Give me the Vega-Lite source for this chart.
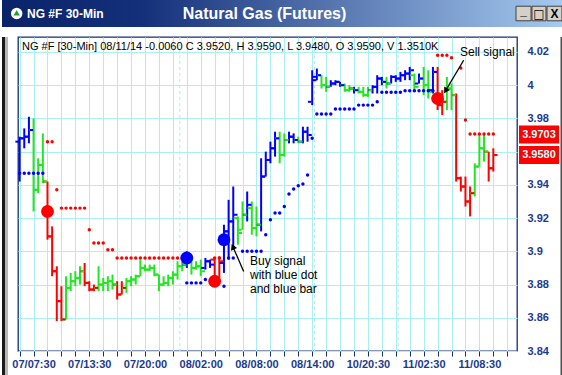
{
  "$schema": "https://vega.github.io/schema/vega-lite/v6.json",
  "padding": 0,
  "background": "white",
  "spacing": 7,
  "config": {
    "font": "Liberation Sans",
    "view": {"stroke": null}
  },
  "datasets": {
    "bars": [
      {"i":0,"o":3.966,"h":3.969,"l":3.942,"c":3.968,"s":"buy"},
      {"i":1,"o":3.968,"h":3.974,"l":3.962,"c":3.969,"s":"buy"},
      {"i":2,"o":3.969,"h":3.981,"l":3.965,"c":3.973,"s":"buy"},
      {"i":3,"o":3.973,"h":3.980,"l":3.924,"c":3.937,"s":"neutral"},
      {"i":4,"o":3.937,"h":3.956,"l":3.935,"c":3.952,"s":"neutral"},
      {"i":5,"o":3.952,"h":3.971,"l":3.941,"c":3.942,"s":"neutral"},
      {"i":6,"o":3.942,"h":3.942,"l":3.907,"c":3.909,"s":"sell"},
      {"i":7,"o":3.909,"h":3.915,"l":3.885,"c":3.888,"s":"sell"},
      {"i":8,"o":3.888,"h":3.891,"l":3.858,"c":3.870,"s":"sell"},
      {"i":9,"o":3.870,"h":3.879,"l":3.858,"c":3.859,"s":"sell"},
      {"i":10,"o":3.859,"h":3.885,"l":3.859,"c":3.878,"s":"neutral"},
      {"i":11,"o":3.878,"h":3.887,"l":3.876,"c":3.882,"s":"neutral"},
      {"i":12,"o":3.882,"h":3.888,"l":3.879,"c":3.884,"s":"neutral"},
      {"i":13,"o":3.884,"h":3.891,"l":3.880,"c":3.888,"s":"neutral"},
      {"i":14,"o":3.888,"h":3.893,"l":3.879,"c":3.881,"s":"sell"},
      {"i":15,"o":3.881,"h":3.882,"l":3.876,"c":3.877,"s":"sell"},
      {"i":16,"o":3.877,"h":3.880,"l":3.876,"c":3.878,"s":"sell"},
      {"i":17,"o":3.878,"h":3.891,"l":3.876,"c":3.880,"s":"neutral"},
      {"i":18,"o":3.880,"h":3.884,"l":3.876,"c":3.881,"s":"neutral"},
      {"i":19,"o":3.881,"h":3.885,"l":3.876,"c":3.882,"s":"neutral"},
      {"i":20,"o":3.882,"h":3.886,"l":3.877,"c":3.880,"s":"neutral"},
      {"i":21,"o":3.880,"h":3.882,"l":3.871,"c":3.874,"s":"sell"},
      {"i":22,"o":3.874,"h":3.882,"l":3.874,"c":3.878,"s":"sell"},
      {"i":23,"o":3.878,"h":3.884,"l":3.875,"c":3.882,"s":"neutral"},
      {"i":24,"o":3.882,"h":3.885,"l":3.879,"c":3.883,"s":"neutral"},
      {"i":25,"o":3.883,"h":3.886,"l":3.880,"c":3.885,"s":"neutral"},
      {"i":26,"o":3.885,"h":3.895,"l":3.885,"c":3.890,"s":"neutral"},
      {"i":27,"o":3.890,"h":3.892,"l":3.888,"c":3.889,"s":"neutral"},
      {"i":28,"o":3.889,"h":3.892,"l":3.888,"c":3.890,"s":"neutral"},
      {"i":29,"o":3.890,"h":3.892,"l":3.885,"c":3.886,"s":"neutral"},
      {"i":30,"o":3.886,"h":3.886,"l":3.876,"c":3.880,"s":"neutral"},
      {"i":31,"o":3.880,"h":3.885,"l":3.879,"c":3.881,"s":"neutral"},
      {"i":32,"o":3.881,"h":3.886,"l":3.879,"c":3.884,"s":"neutral"},
      {"i":33,"o":3.884,"h":3.888,"l":3.880,"c":3.886,"s":"neutral"},
      {"i":34,"o":3.886,"h":3.894,"l":3.883,"c":3.891,"s":"neutral"},
      {"i":35,"o":3.891,"h":3.894,"l":3.888,"c":3.892,"s":"neutral"},
      {"i":36,"o":3.892,"h":3.900,"l":3.890,"c":3.897,"s":"buy"},
      {"i":37,"o":3.895,"h":3.896,"l":3.886,"c":3.890,"s":"neutral"},
      {"i":38,"o":3.890,"h":3.894,"l":3.889,"c":3.891,"s":"neutral"},
      {"i":39,"o":3.891,"h":3.895,"l":3.885,"c":3.888,"s":"neutral"},
      {"i":40,"o":3.890,"h":3.896,"l":3.889,"c":3.894,"s":"buy"},
      {"i":41,"o":3.894,"h":3.895,"l":3.890,"c":3.892,"s":"buy"},
      {"i":42,"o":3.895,"h":3.896,"l":3.880,"c":3.884,"s":"sell"},
      {"i":43,"o":3.884,"h":3.897,"l":3.884,"c":3.894,"s":"sell"},
      {"i":44,"o":3.893,"h":3.916,"l":3.887,"c":3.912,"s":"buy"},
      {"i":45,"o":3.912,"h":3.931,"l":3.895,"c":3.918,"s":"buy"},
      {"i":46,"o":3.918,"h":3.939,"l":3.901,"c":3.922,"s":"buy"},
      {"i":47,"o":3.920,"h":3.921,"l":3.904,"c":3.911,"s":"neutral"},
      {"i":48,"o":3.913,"h":3.930,"l":3.913,"c":3.922,"s":"neutral"},
      {"i":49,"o":3.922,"h":3.936,"l":3.918,"c":3.928,"s":"buy"},
      {"i":50,"o":3.926,"h":3.930,"l":3.910,"c":3.914,"s":"neutral"},
      {"i":51,"o":3.914,"h":3.927,"l":3.909,"c":3.916,"s":"neutral"},
      {"i":52,"o":3.916,"h":3.956,"l":3.912,"c":3.945,"s":"buy"},
      {"i":53,"o":3.945,"h":3.960,"l":3.945,"c":3.955,"s":"buy"},
      {"i":54,"o":3.955,"h":3.966,"l":3.953,"c":3.962,"s":"buy"},
      {"i":55,"o":3.962,"h":3.972,"l":3.957,"c":3.968,"s":"buy"},
      {"i":56,"o":3.968,"h":3.972,"l":3.953,"c":3.958,"s":"neutral"},
      {"i":57,"o":3.958,"h":3.971,"l":3.957,"c":3.967,"s":"neutral"},
      {"i":58,"o":3.967,"h":3.972,"l":3.965,"c":3.969,"s":"buy"},
      {"i":59,"o":3.969,"h":3.971,"l":3.965,"c":3.967,"s":"buy"},
      {"i":60,"o":3.967,"h":3.969,"l":3.965,"c":3.966,"s":"neutral"},
      {"i":61,"o":3.966,"h":3.975,"l":3.965,"c":3.972,"s":"buy"},
      {"i":62,"o":3.972,"h":3.975,"l":3.966,"c":3.970,"s":"buy"},
      {"i":63,"o":3.990,"h":4.009,"l":3.988,"c":4.003,"s":"buy"},
      {"i":64,"o":4.005,"h":4.010,"l":4.003,"c":4.006,"s":"buy"},
      {"i":65,"o":4.006,"h":4.006,"l":3.998,"c":4.000,"s":"neutral"},
      {"i":66,"o":4.000,"h":4.005,"l":3.996,"c":3.999,"s":"neutral"},
      {"i":67,"o":3.999,"h":4.003,"l":3.999,"c":4.001,"s":"buy"},
      {"i":68,"o":4.001,"h":4.003,"l":4.000,"c":4.002,"s":"buy"},
      {"i":69,"o":4.002,"h":4.002,"l":3.999,"c":4.000,"s":"buy"},
      {"i":70,"o":4.000,"h":4.001,"l":3.996,"c":3.997,"s":"neutral"},
      {"i":71,"o":3.997,"h":4.000,"l":3.996,"c":3.998,"s":"neutral"},
      {"i":72,"o":3.998,"h":3.999,"l":3.995,"c":3.997,"s":"buy"},
      {"i":73,"o":3.997,"h":3.999,"l":3.995,"c":3.996,"s":"neutral"},
      {"i":74,"o":3.996,"h":3.999,"l":3.993,"c":3.994,"s":"neutral"},
      {"i":75,"o":3.994,"h":3.999,"l":3.993,"c":3.997,"s":"neutral"},
      {"i":76,"o":3.997,"h":4.000,"l":3.995,"c":3.999,"s":"buy"},
      {"i":77,"o":3.999,"h":4.006,"l":3.995,"c":4.004,"s":"buy"},
      {"i":78,"o":4.004,"h":4.005,"l":4.000,"c":4.002,"s":"buy"},
      {"i":79,"o":4.002,"h":4.005,"l":3.998,"c":4.001,"s":"neutral"},
      {"i":80,"o":4.001,"h":4.006,"l":4.001,"c":4.005,"s":"buy"},
      {"i":81,"o":4.005,"h":4.006,"l":4.002,"c":4.004,"s":"buy"},
      {"i":82,"o":4.004,"h":4.008,"l":4.002,"c":4.006,"s":"buy"},
      {"i":83,"o":4.006,"h":4.009,"l":4.003,"c":4.007,"s":"buy"},
      {"i":84,"o":4.007,"h":4.011,"l":4.003,"c":4.009,"s":"buy"},
      {"i":85,"o":4.006,"h":4.007,"l":3.997,"c":3.999,"s":"neutral"},
      {"i":86,"o":4.001,"h":4.007,"l":4.001,"c":4.004,"s":"buy"},
      {"i":87,"o":4.004,"h":4.011,"l":3.994,"c":4.000,"s":"neutral"},
      {"i":88,"o":4.000,"h":4.009,"l":3.992,"c":3.996,"s":"neutral"},
      {"i":89,"o":3.997,"h":4.011,"l":3.995,"c":4.008,"s":"buy"},
      {"i":90,"o":4.008,"h":4.011,"l":3.985,"c":3.988,"s":"sell"},
      {"i":91,"o":3.988,"h":3.997,"l":3.982,"c":3.990,"s":"sell"},
      {"i":92,"o":3.990,"h":4.005,"l":3.985,"c":3.998,"s":"neutral"},
      {"i":93,"o":3.998,"h":4.001,"l":3.985,"c":3.994,"s":"neutral"},
      {"i":94,"o":3.994,"h":3.995,"l":3.942,"c":3.944,"s":"sell"},
      {"i":95,"o":3.944,"h":3.945,"l":3.936,"c":3.939,"s":"sell"},
      {"i":96,"o":3.939,"h":3.945,"l":3.927,"c":3.930,"s":"sell"},
      {"i":97,"o":3.930,"h":3.939,"l":3.921,"c":3.935,"s":"sell"},
      {"i":98,"o":3.935,"h":3.953,"l":3.933,"c":3.951,"s":"neutral"},
      {"i":99,"o":3.951,"h":3.971,"l":3.951,"c":3.962,"s":"neutral"},
      {"i":100,"o":3.962,"h":3.971,"l":3.954,"c":3.960,"s":"neutral"},
      {"i":101,"o":3.960,"h":3.960,"l":3.942,"c":3.950,"s":"sell"},
      {"i":102,"o":3.950,"h":3.962,"l":3.948,"c":3.958,"s":"sell"}
    ],
    "sar": [
      {"i":0,"v":3.947,"s":"buy"},{"i":1,"v":3.947,"s":"buy"},{"i":2,"v":3.947,"s":"buy"},
      {"i":3,"v":3.947,"s":"buy"},{"i":4,"v":3.947,"s":"buy"},{"i":5,"v":3.947,"s":"buy"},
      {"i":6,"v":3.966,"s":"sell"},{"i":7,"v":3.966,"s":"sell"},{"i":8,"v":3.937,"s":"sell"},
      {"i":9,"v":3.926,"s":"sell"},{"i":10,"v":3.926,"s":"sell"},{"i":11,"v":3.926,"s":"sell"},
      {"i":12,"v":3.926,"s":"sell"},{"i":13,"v":3.926,"s":"sell"},{"i":14,"v":3.926,"s":"sell"},
      {"i":15,"v":3.913,"s":"sell"},{"i":16,"v":3.905,"s":"sell"},{"i":17,"v":3.905,"s":"sell"},
      {"i":18,"v":3.905,"s":"sell"},{"i":19,"v":3.901,"s":"sell"},{"i":20,"v":3.901,"s":"sell"},
      {"i":21,"v":3.896,"s":"sell"},{"i":22,"v":3.896,"s":"sell"},{"i":23,"v":3.896,"s":"sell"},
      {"i":24,"v":3.896,"s":"sell"},{"i":25,"v":3.896,"s":"sell"},{"i":26,"v":3.896,"s":"sell"},
      {"i":27,"v":3.896,"s":"sell"},{"i":28,"v":3.896,"s":"sell"},{"i":29,"v":3.896,"s":"sell"},
      {"i":30,"v":3.896,"s":"sell"},{"i":31,"v":3.896,"s":"sell"},{"i":32,"v":3.896,"s":"sell"},
      {"i":33,"v":3.896,"s":"sell"},{"i":34,"v":3.896,"s":"sell"},{"i":35,"v":3.896,"s":"sell"},
      {"i":36,"v":3.881,"s":"buy"},{"i":37,"v":3.881,"s":"buy"},{"i":38,"v":3.881,"s":"buy"},
      {"i":39,"v":3.881,"s":"buy"},{"i":40,"v":3.883,"s":"buy"},
      {"i":42,"v":3.896,"s":"sell"},{"i":43,"v":3.896,"s":"sell"},
      {"i":44,"v":3.879,"s":"buy"},{"i":45,"v":3.896,"s":"buy"},{"i":46,"v":3.896,"s":"buy"},
      {"i":48,"v":3.900,"s":"buy"},{"i":49,"v":3.900,"s":"buy"},{"i":50,"v":3.900,"s":"buy"},
      {"i":51,"v":3.900,"s":"buy"},{"i":52,"v":3.900,"s":"buy"},{"i":53,"v":3.910,"s":"buy"},
      {"i":54,"v":3.919,"s":"buy"},{"i":55,"v":3.923,"s":"buy"},{"i":56,"v":3.923,"s":"buy"},
      {"i":57,"v":3.927,"s":"buy"},{"i":58,"v":3.9345,"s":"buy"},{"i":59,"v":3.9375,"s":"buy"},
      {"i":60,"v":3.9395,"s":"buy"},{"i":61,"v":3.9405,"s":"buy"},{"i":62,"v":3.946,"s":"buy"},
      {"i":63,"v":3.968,"s":"buy"},{"i":64,"v":3.9827,"s":"buy"},{"i":65,"v":3.9827,"s":"buy"},
      {"i":66,"v":3.9827,"s":"buy"},{"i":67,"v":3.9827,"s":"buy"},{"i":68,"v":3.9857,"s":"buy"},
      {"i":69,"v":3.9857,"s":"buy"},{"i":70,"v":3.9857,"s":"buy"},{"i":71,"v":3.9857,"s":"buy"},
      {"i":72,"v":3.9857,"s":"buy"},{"i":73,"v":3.988,"s":"buy"},{"i":74,"v":3.988,"s":"buy"},
      {"i":75,"v":3.988,"s":"buy"},{"i":76,"v":3.988,"s":"buy"},{"i":77,"v":3.990,"s":"buy"},
      {"i":78,"v":3.9957,"s":"buy"},{"i":79,"v":3.9957,"s":"buy"},{"i":80,"v":3.9957,"s":"buy"},
      {"i":81,"v":3.9957,"s":"buy"},{"i":82,"v":3.9957,"s":"buy"},{"i":83,"v":3.9967,"s":"buy"},
      {"i":84,"v":3.9967,"s":"buy"},{"i":85,"v":3.9967,"s":"buy"},{"i":86,"v":3.9967,"s":"buy"},
      {"i":87,"v":3.9967,"s":"buy"},{"i":88,"v":3.9967,"s":"buy"},{"i":89,"v":3.9967,"s":"buy"},
      {"i":90,"v":4.018,"s":"sell"},{"i":91,"v":4.018,"s":"sell"},{"i":92,"v":4.018,"s":"sell"},
      {"i":93,"v":4.0165,"s":"sell"},{"i":95,"v":4.0104,"s":"sell"},{"i":96,"v":3.979,"s":"sell"},
      {"i":97,"v":3.9706,"s":"sell"},{"i":98,"v":3.9706,"s":"sell"},{"i":99,"v":3.9706,"s":"sell"},
      {"i":100,"v":3.9706,"s":"sell"},{"i":101,"v":3.9706,"s":"sell"},{"i":102,"v":3.9706,"s":"sell"}
    ],
    "signals": [
      {"i":6,"v":3.924,"s":"sell"},
      {"i":36,"v":3.896,"s":"buy"},
      {"i":42,"v":3.882,"s":"sell"},
      {"i":44,"v":3.907,"s":"buy"},
      {"i":90,"v":3.992,"s":"sell"}
    ],
    "sessions": [{"i":34.5},{"i":63.5},{"i":81.5}],
    "priceTags": [{"p":3.9703},{"p":3.958}]
  },
  "vconcat": [
    {
      "width": 546,
      "height": 27,
      "view": {"stroke": null},
      "data": {"values": [{}]},
      "layer": [
        {
          "mark": {"type": "rect", "fill": {"gradient": "linear", "x1": 0, "y1": 0, "x2": 1, "y2": 0, "stops": [{"offset": 0, "color": "#0a246a"}, {"offset": 0.25, "color": "#14307a"}, {"offset": 1, "color": "#a6caf0"}]}},
          "encoding": {
            "x": {"datum": -0.0293, "type": "quantitative", "scale": {"domain": [0, 1], "nice": false, "zero": false}, "axis": null},
            "x2": {"datum": 1},
            "y": {"datum": 0, "type": "quantitative", "scale": {"domain": [0, 1], "nice": false, "zero": false}, "axis": null},
            "y2": {"datum": 1}
          }
        },
        {
          "mark": {"type": "point", "shape": "circle", "filled": true, "fill": "white", "size": 130, "opacity": 1},
          "encoding": {
            "x": {"datum": -0.0024, "type": "quantitative", "scale": {"domain": [0, 1], "nice": false, "zero": false}, "axis": null},
            "y": {"datum": 0.5, "type": "quantitative", "scale": {"domain": [0, 1], "nice": false, "zero": false}, "axis": null}
          }
        },
        {
          "mark": {"type": "point", "shape": "triangle-up", "filled": true, "fill": "#1f9d3a", "size": 40, "opacity": 1},
          "encoding": {
            "x": {"datum": -0.0024, "type": "quantitative", "scale": {"domain": [0, 1], "nice": false, "zero": false}, "axis": null},
            "y": {"datum": 0.53, "type": "quantitative", "scale": {"domain": [0, 1], "nice": false, "zero": false}, "axis": null}
          }
        },
        {
          "mark": {"type": "text", "text": "NG #F 30-Min", "align": "left", "baseline": "middle", "font": "Liberation Sans", "fontWeight": "bold", "fontSize": 12, "fill": "white"},
          "encoding": {
            "x": {"datum": 0.0165, "type": "quantitative", "scale": {"domain": [0, 1], "nice": false, "zero": false}, "axis": null},
            "y": {"datum": 0.48, "type": "quantitative", "scale": {"domain": [0, 1], "nice": false, "zero": false}, "axis": null}
          }
        },
        {
          "mark": {"type": "text", "text": "Natural Gas (Futures)", "align": "center", "baseline": "middle", "font": "Liberation Sans", "fontWeight": "bold", "fontSize": 16, "fill": "white"},
          "encoding": {
            "x": {"datum": 0.4515, "type": "quantitative", "scale": {"domain": [0, 1], "nice": false, "zero": false}, "axis": null},
            "y": {"datum": 0.47, "type": "quantitative", "scale": {"domain": [0, 1], "nice": false, "zero": false}, "axis": null}
          }
        },
        {
          "mark": {"type": "rect", "fill": "#d4d0c8", "stroke": "#404040", "strokeWidth": 1},
          "encoding": {
            "x": {"datum": 0.9121, "type": "quantitative", "scale": {"domain": [0, 1], "nice": false, "zero": false}, "axis": null},
            "x2": {"datum": 0.9396},
            "y": {"datum": 0.23, "type": "quantitative", "scale": {"domain": [0, 1], "nice": false, "zero": false}, "axis": null},
            "y2": {"datum": 0.77}
          }
        },
        {
          "mark": {"type": "rect", "fill": "#d4d0c8", "stroke": "#404040", "strokeWidth": 1},
          "encoding": {
            "x": {"datum": 0.9414, "type": "quantitative", "scale": {"domain": [0, 1], "nice": false, "zero": false}, "axis": null},
            "x2": {"datum": 0.967},
            "y": {"datum": 0.23, "type": "quantitative", "scale": {"domain": [0, 1], "nice": false, "zero": false}, "axis": null},
            "y2": {"datum": 0.77}
          }
        },
        {
          "mark": {"type": "rect", "fill": "#d4d0c8", "stroke": "#404040", "strokeWidth": 1},
          "encoding": {
            "x": {"datum": 0.9689, "type": "quantitative", "scale": {"domain": [0, 1], "nice": false, "zero": false}, "axis": null},
            "x2": {"datum": 0.9963},
            "y": {"datum": 0.23, "type": "quantitative", "scale": {"domain": [0, 1], "nice": false, "zero": false}, "axis": null},
            "y2": {"datum": 0.77}
          }
        },
        {
          "mark": {"type": "text", "text": "_", "align": "center", "baseline": "middle", "font": "Liberation Sans", "fontWeight": "bold", "fontSize": 12, "fill": "black"},
          "encoding": {
            "x": {"datum": 0.9258, "type": "quantitative", "scale": {"domain": [0, 1], "nice": false, "zero": false}, "axis": null},
            "y": {"datum": 0.6, "type": "quantitative", "scale": {"domain": [0, 1], "nice": false, "zero": false}, "axis": null}
          }
        },
        {
          "mark": {"type": "text", "text": "□", "align": "center", "baseline": "middle", "font": "DejaVu Sans", "fontWeight": "bold", "fontSize": 12, "fill": "black"},
          "encoding": {
            "x": {"datum": 0.9542, "type": "quantitative", "scale": {"domain": [0, 1], "nice": false, "zero": false}, "axis": null},
            "y": {"datum": 0.5, "type": "quantitative", "scale": {"domain": [0, 1], "nice": false, "zero": false}, "axis": null}
          }
        },
        {
          "mark": {"type": "text", "text": "X", "align": "center", "baseline": "middle", "font": "Liberation Sans", "fontWeight": "bold", "fontSize": 12, "fill": "black"},
          "encoding": {
            "x": {"datum": 0.9826, "type": "quantitative", "scale": {"domain": [0, 1], "nice": false, "zero": false}, "axis": null},
            "y": {"datum": 0.5, "type": "quantitative", "scale": {"domain": [0, 1], "nice": false, "zero": false}, "axis": null}
          }
        }
      ]
    },
    {
      "width": 499,
      "height": 314,
      "view": {"stroke": "#12306e", "strokeWidth": 1.3},
      "resolve": {"axis": {"y": "independent"}},
      "layer": [
        {
          "data": {"name": "sessions"},
          "mark": {"type": "rule", "color": "#a9eeee", "strokeWidth": 1, "strokeDash": [3, 3]},
          "encoding": {
            "x": {"field": "i", "type": "quantitative", "scale": {"domain": [-0.35, 107.1], "nice": false, "zero": false},
              "axis": {"values": [0,3,6,9,12,15,18,21,24,27,30,33,36,39,42,45,48,51,54,57,60,63,66,69,72,75,78,81,84,87,90,93,96,99,102,105], "grid": true, "gridColor": "#aaf0f0", "gridWidth": 1, "domain": false, "ticks": true, "tickSize": 5, "tickColor": "#12306e", "tickWidth": 1, "labelExpr": "datum.value % 12 == 3 ? ['07/07:30','07/13:30','07/20:00','08/02:00','08/08:00','08/14:00','10/20:30','11/02:30','11/08:30'][(datum.value - 3) / 12] : ''", "labelFont": "Liberation Sans", "labelFontWeight": "bold", "labelFontSize": 11, "labelColor": "#1c3a8c", "labelPadding": 2, "labelOverlap": false, "labelFlush": false, "title": null}}
          }
        },
        {
          "data": {"values": [{}]},
          "mark": {"type": "rule", "color": "#1a1a1a", "strokeWidth": 3},
          "encoding": {
            "x": {"datum": -3.472, "type": "quantitative", "scale": {"domain": [-0.35, 107.1], "nice": false, "zero": false},
              "axis": {"values": [0,3,6,9,12,15,18,21,24,27,30,33,36,39,42,45,48,51,54,57,60,63,66,69,72,75,78,81,84,87,90,93,96,99,102,105], "grid": true, "gridColor": "#aaf0f0", "gridWidth": 1, "domain": false, "ticks": true, "tickSize": 5, "tickColor": "#12306e", "tickWidth": 1, "labelExpr": "datum.value % 12 == 3 ? ['07/07:30','07/13:30','07/20:00','08/02:00','08/08:00','08/14:00','10/20:30','11/02:30','11/08:30'][(datum.value - 3) / 12] : ''", "labelFont": "Liberation Sans", "labelFontWeight": "bold", "labelFontSize": 11, "labelColor": "#1c3a8c", "labelPadding": 2, "labelOverlap": false, "labelFlush": false, "title": null}},
            "y": {"datum": 4.029, "type": "quantitative", "scale": {"domain": [3.84, 4.029], "nice": false, "zero": false}, "axis": null},
            "y2": {"datum": 3.8243}
          }
        },
        {
          "data": {"values": [{}]},
          "mark": {"type": "rule", "color": "#b8b8b8", "strokeWidth": 3},
          "encoding": {
            "x": {"datum": -2.826, "type": "quantitative", "scale": {"domain": [-0.35, 107.1], "nice": false, "zero": false},
              "axis": {"values": [0,3,6,9,12,15,18,21,24,27,30,33,36,39,42,45,48,51,54,57,60,63,66,69,72,75,78,81,84,87,90,93,96,99,102,105], "grid": true, "gridColor": "#aaf0f0", "gridWidth": 1, "domain": false, "ticks": true, "tickSize": 5, "tickColor": "#12306e", "tickWidth": 1, "labelExpr": "datum.value % 12 == 3 ? ['07/07:30','07/13:30','07/20:00','08/02:00','08/08:00','08/14:00','10/20:30','11/02:30','11/08:30'][(datum.value - 3) / 12] : ''", "labelFont": "Liberation Sans", "labelFontWeight": "bold", "labelFontSize": 11, "labelColor": "#1c3a8c", "labelPadding": 2, "labelOverlap": false, "labelFlush": false, "title": null}},
            "y": {"datum": 4.029, "type": "quantitative", "scale": {"domain": [3.84, 4.029], "nice": false, "zero": false}, "axis": null},
            "y2": {"datum": 3.8243}
          }
        },
        {
          "data": {"values": [{}]},
          "mark": {"type": "rule", "color": "#505050", "strokeWidth": 2},
          "encoding": {
            "x": {"datum": 116.68, "type": "quantitative", "scale": {"domain": [-0.35, 107.1], "nice": false, "zero": false},
              "axis": {"values": [0,3,6,9,12,15,18,21,24,27,30,33,36,39,42,45,48,51,54,57,60,63,66,69,72,75,78,81,84,87,90,93,96,99,102,105], "grid": true, "gridColor": "#aaf0f0", "gridWidth": 1, "domain": false, "ticks": true, "tickSize": 5, "tickColor": "#12306e", "tickWidth": 1, "labelExpr": "datum.value % 12 == 3 ? ['07/07:30','07/13:30','07/20:00','08/02:00','08/08:00','08/14:00','10/20:30','11/02:30','11/08:30'][(datum.value - 3) / 12] : ''", "labelFont": "Liberation Sans", "labelFontWeight": "bold", "labelFontSize": 11, "labelColor": "#1c3a8c", "labelPadding": 2, "labelOverlap": false, "labelFlush": false, "title": null}},
            "y": {"datum": 4.029, "type": "quantitative", "scale": {"domain": [3.84, 4.029], "nice": false, "zero": false}, "axis": null},
            "y2": {"datum": 3.8243}
          }
        },
        {
          "data": {"values": [{}]},
          "mark": {"type": "rule", "color": "#505050", "strokeWidth": 2},
          "encoding": {
            "x": {"datum": -3.45, "type": "quantitative", "scale": {"domain": [-0.35, 107.1], "nice": false, "zero": false},
              "axis": {"values": [0,3,6,9,12,15,18,21,24,27,30,33,36,39,42,45,48,51,54,57,60,63,66,69,72,75,78,81,84,87,90,93,96,99,102,105], "grid": true, "gridColor": "#aaf0f0", "gridWidth": 1, "domain": false, "ticks": true, "tickSize": 5, "tickColor": "#12306e", "tickWidth": 1, "labelExpr": "datum.value % 12 == 3 ? ['07/07:30','07/13:30','07/20:00','08/02:00','08/08:00','08/14:00','10/20:30','11/02:30','11/08:30'][(datum.value - 3) / 12] : ''", "labelFont": "Liberation Sans", "labelFontWeight": "bold", "labelFontSize": 11, "labelColor": "#1c3a8c", "labelPadding": 2, "labelOverlap": false, "labelFlush": false, "title": null}},
            "x2": {"datum": 116.68},
            "y": {"datum": 3.8249, "type": "quantitative", "scale": {"domain": [3.84, 4.029], "nice": false, "zero": false}, "axis": null}
          }
        },
        {
          "data": {"name": "bars"},
          "mark": {"type": "rule", "strokeWidth": 2, "strokeCap": "butt"},
          "encoding": {
            "x": {"field": "i", "type": "quantitative", "scale": {"domain": [-0.35, 107.1], "nice": false, "zero": false},
              "axis": {"values": [0,3,6,9,12,15,18,21,24,27,30,33,36,39,42,45,48,51,54,57,60,63,66,69,72,75,78,81,84,87,90,93,96,99,102,105], "grid": true, "gridColor": "#aaf0f0", "gridWidth": 1, "domain": false, "ticks": true, "tickSize": 5, "tickColor": "#12306e", "tickWidth": 1, "labelExpr": "datum.value % 12 == 3 ? ['07/07:30','07/13:30','07/20:00','08/02:00','08/08:00','08/14:00','10/20:30','11/02:30','11/08:30'][(datum.value - 3) / 12] : ''", "labelFont": "Liberation Sans", "labelFontWeight": "bold", "labelFontSize": 11, "labelColor": "#1c3a8c", "labelPadding": 2, "labelOverlap": false, "labelFlush": false, "title": null}},
            "y": {
              "field": "l", "type": "quantitative",
              "scale": {"domain": [3.84, 4.029], "nice": false, "zero": false},
              "axis": {
                "orient": "right",
                "values": [3.84, 3.86, 3.88, 3.9, 3.92, 3.94, 3.96, 3.98, 4, 4.02],
                "grid": true, "gridColor": "#aaf0f0", "gridWidth": 1,
                "domain": false, "ticks": false, "labelPadding": 10,
                "format": ".2~f",
                "labelExpr": "datum.value == 3.96 ? '' : datum.label",
                "labelFont": "Liberation Sans", "labelFontWeight": "bold", "labelFontSize": 11, "labelColor": "#1c3a8c",
                "title": null
              }
            },
            "y2": {"field": "h"},
            "color": {"field": "s", "type": "nominal", "scale": {"domain": ["buy", "neutral", "sell"], "range": ["#0000ff", "#22e622", "#ff0000"]}, "legend": null}
          }
        },
        {
          "data": {"name": "bars"},
          "mark": {"type": "tick", "orient": "horizontal", "size": 3.5, "thickness": 2, "xOffset": -2.5, "opacity": 1},
          "encoding": {
            "x": {"field": "i", "type": "quantitative", "scale": {"domain": [-0.35, 107.1], "nice": false, "zero": false},
              "axis": {"values": [0,3,6,9,12,15,18,21,24,27,30,33,36,39,42,45,48,51,54,57,60,63,66,69,72,75,78,81,84,87,90,93,96,99,102,105], "grid": true, "gridColor": "#aaf0f0", "gridWidth": 1, "domain": false, "ticks": true, "tickSize": 5, "tickColor": "#12306e", "tickWidth": 1, "labelExpr": "datum.value % 12 == 3 ? ['07/07:30','07/13:30','07/20:00','08/02:00','08/08:00','08/14:00','10/20:30','11/02:30','11/08:30'][(datum.value - 3) / 12] : ''", "labelFont": "Liberation Sans", "labelFontWeight": "bold", "labelFontSize": 11, "labelColor": "#1c3a8c", "labelPadding": 2, "labelOverlap": false, "labelFlush": false, "title": null}},
            "y": {
              "field": "o", "type": "quantitative",
              "scale": {"domain": [3.84, 4.029], "nice": false, "zero": false},
              "axis": {"orient": "left", "values": [3.9], "labels": false, "domain": false, "grid": false, "ticks": true, "tickSize": 16, "tickColor": "transparent", "title": null}
            },
            "color": {"field": "s", "type": "nominal", "scale": {"domain": ["buy", "neutral", "sell"], "range": ["#0000ff", "#22e622", "#ff0000"]}, "legend": null}
          }
        },
        {
          "data": {"name": "bars"},
          "mark": {"type": "tick", "orient": "horizontal", "size": 3.5, "thickness": 2, "xOffset": 2.5, "opacity": 1},
          "encoding": {
            "x": {"field": "i", "type": "quantitative", "scale": {"domain": [-0.35, 107.1], "nice": false, "zero": false},
              "axis": {"values": [0,3,6,9,12,15,18,21,24,27,30,33,36,39,42,45,48,51,54,57,60,63,66,69,72,75,78,81,84,87,90,93,96,99,102,105], "grid": true, "gridColor": "#aaf0f0", "gridWidth": 1, "domain": false, "ticks": true, "tickSize": 5, "tickColor": "#12306e", "tickWidth": 1, "labelExpr": "datum.value % 12 == 3 ? ['07/07:30','07/13:30','07/20:00','08/02:00','08/08:00','08/14:00','10/20:30','11/02:30','11/08:30'][(datum.value - 3) / 12] : ''", "labelFont": "Liberation Sans", "labelFontWeight": "bold", "labelFontSize": 11, "labelColor": "#1c3a8c", "labelPadding": 2, "labelOverlap": false, "labelFlush": false, "title": null}},
            "y": {"field": "c", "type": "quantitative", "scale": {"domain": [3.84, 4.029], "nice": false, "zero": false}, "axis": null},
            "color": {"field": "s", "type": "nominal", "scale": {"domain": ["buy", "neutral", "sell"], "range": ["#0000ff", "#22e622", "#ff0000"]}, "legend": null}
          }
        },
        {
          "data": {"name": "sar"},
          "mark": {"type": "point", "shape": "circle", "filled": true, "size": 12, "opacity": 1},
          "encoding": {
            "x": {"field": "i", "type": "quantitative", "scale": {"domain": [-0.35, 107.1], "nice": false, "zero": false},
              "axis": {"values": [0,3,6,9,12,15,18,21,24,27,30,33,36,39,42,45,48,51,54,57,60,63,66,69,72,75,78,81,84,87,90,93,96,99,102,105], "grid": true, "gridColor": "#aaf0f0", "gridWidth": 1, "domain": false, "ticks": true, "tickSize": 5, "tickColor": "#12306e", "tickWidth": 1, "labelExpr": "datum.value % 12 == 3 ? ['07/07:30','07/13:30','07/20:00','08/02:00','08/08:00','08/14:00','10/20:30','11/02:30','11/08:30'][(datum.value - 3) / 12] : ''", "labelFont": "Liberation Sans", "labelFontWeight": "bold", "labelFontSize": 11, "labelColor": "#1c3a8c", "labelPadding": 2, "labelOverlap": false, "labelFlush": false, "title": null}},
            "y": {"field": "v", "type": "quantitative", "scale": {"domain": [3.84, 4.029], "nice": false, "zero": false}, "axis": null},
            "color": {"field": "s", "type": "nominal", "scale": {"domain": ["buy", "neutral", "sell"], "range": ["#0000ff", "#22e622", "#ff0000"]}, "legend": null}
          }
        },
        {
          "data": {"name": "signals"},
          "mark": {"type": "point", "shape": "circle", "filled": true, "size": 165, "opacity": 1},
          "encoding": {
            "x": {"field": "i", "type": "quantitative", "scale": {"domain": [-0.35, 107.1], "nice": false, "zero": false},
              "axis": {"values": [0,3,6,9,12,15,18,21,24,27,30,33,36,39,42,45,48,51,54,57,60,63,66,69,72,75,78,81,84,87,90,93,96,99,102,105], "grid": true, "gridColor": "#aaf0f0", "gridWidth": 1, "domain": false, "ticks": true, "tickSize": 5, "tickColor": "#12306e", "tickWidth": 1, "labelExpr": "datum.value % 12 == 3 ? ['07/07:30','07/13:30','07/20:00','08/02:00','08/08:00','08/14:00','10/20:30','11/02:30','11/08:30'][(datum.value - 3) / 12] : ''", "labelFont": "Liberation Sans", "labelFontWeight": "bold", "labelFontSize": 11, "labelColor": "#1c3a8c", "labelPadding": 2, "labelOverlap": false, "labelFlush": false, "title": null}},
            "y": {"field": "v", "type": "quantitative", "scale": {"domain": [3.84, 4.029], "nice": false, "zero": false}, "axis": null},
            "color": {"field": "s", "type": "nominal", "scale": {"domain": ["buy", "neutral", "sell"], "range": ["#0000ff", "#22e622", "#ff0000"]}, "legend": null}
          }
        },
        {
          "data": {"values": [{}]},
          "mark": {"type": "text", "text": "NG #F [30-Min] 08/11/14 -0.0060 C 3.9520, H 3.9590, L 3.9480, O 3.9590, V 1.3510K", "align": "left", "baseline": "middle", "font": "Liberation Sans", "fontSize": 11, "fill": "black"},
          "encoding": {
            "x": {"datum": 0.51, "type": "quantitative", "scale": {"domain": [-0.35, 107.1], "nice": false, "zero": false},
              "axis": {"values": [0,3,6,9,12,15,18,21,24,27,30,33,36,39,42,45,48,51,54,57,60,63,66,69,72,75,78,81,84,87,90,93,96,99,102,105], "grid": true, "gridColor": "#aaf0f0", "gridWidth": 1, "domain": false, "ticks": true, "tickSize": 5, "tickColor": "#12306e", "tickWidth": 1, "labelExpr": "datum.value % 12 == 3 ? ['07/07:30','07/13:30','07/20:00','08/02:00','08/08:00','08/14:00','10/20:30','11/02:30','11/08:30'][(datum.value - 3) / 12] : ''", "labelFont": "Liberation Sans", "labelFontWeight": "bold", "labelFontSize": 11, "labelColor": "#1c3a8c", "labelPadding": 2, "labelOverlap": false, "labelFlush": false, "title": null}},
            "y": {"datum": 4.0227, "type": "quantitative", "scale": {"domain": [3.84, 4.029], "nice": false, "zero": false}, "axis": null}
          }
        },
        {
          "data": {"values": [{}]},
          "mark": {"type": "text", "text": ["Buy signal", "with blue dot", "and blue bar"], "align": "left", "baseline": "top", "lineHeight": 14, "font": "Liberation Sans", "fontSize": 12, "fill": "black"},
          "encoding": {
            "x": {"datum": 49.61, "type": "quantitative", "scale": {"domain": [-0.35, 107.1], "nice": false, "zero": false},
              "axis": {"values": [0,3,6,9,12,15,18,21,24,27,30,33,36,39,42,45,48,51,54,57,60,63,66,69,72,75,78,81,84,87,90,93,96,99,102,105], "grid": true, "gridColor": "#aaf0f0", "gridWidth": 1, "domain": false, "ticks": true, "tickSize": 5, "tickColor": "#12306e", "tickWidth": 1, "labelExpr": "datum.value % 12 == 3 ? ['07/07:30','07/13:30','07/20:00','08/02:00','08/08:00','08/14:00','10/20:30','11/02:30','11/08:30'][(datum.value - 3) / 12] : ''", "labelFont": "Liberation Sans", "labelFontWeight": "bold", "labelFontSize": 11, "labelColor": "#1c3a8c", "labelPadding": 2, "labelOverlap": false, "labelFlush": false, "title": null}},
            "y": {"datum": 3.8969, "type": "quantitative", "scale": {"domain": [3.84, 4.029], "nice": false, "zero": false}, "axis": null}
          }
        },
        {
          "data": {"values": [{}]},
          "mark": {"type": "text", "text": "Sell signal", "align": "left", "baseline": "middle", "font": "Liberation Sans", "fontSize": 12, "fill": "black"},
          "encoding": {
            "x": {"datum": 94.83, "type": "quantitative", "scale": {"domain": [-0.35, 107.1], "nice": false, "zero": false},
              "axis": {"values": [0,3,6,9,12,15,18,21,24,27,30,33,36,39,42,45,48,51,54,57,60,63,66,69,72,75,78,81,84,87,90,93,96,99,102,105], "grid": true, "gridColor": "#aaf0f0", "gridWidth": 1, "domain": false, "ticks": true, "tickSize": 5, "tickColor": "#12306e", "tickWidth": 1, "labelExpr": "datum.value % 12 == 3 ? ['07/07:30','07/13:30','07/20:00','08/02:00','08/08:00','08/14:00','10/20:30','11/02:30','11/08:30'][(datum.value - 3) / 12] : ''", "labelFont": "Liberation Sans", "labelFontWeight": "bold", "labelFontSize": 11, "labelColor": "#1c3a8c", "labelPadding": 2, "labelOverlap": false, "labelFlush": false, "title": null}},
            "y": {"datum": 4.0197, "type": "quantitative", "scale": {"domain": [3.84, 4.029], "nice": false, "zero": false}, "axis": null}
          }
        },
        {
          "data": {"values": [{}]},
          "mark": {"type": "rule", "color": "black", "strokeWidth": 1.3},
          "encoding": {
            "x": {"datum": 48.25, "type": "quantitative", "scale": {"domain": [-0.35, 107.1], "nice": false, "zero": false},
              "axis": {"values": [0,3,6,9,12,15,18,21,24,27,30,33,36,39,42,45,48,51,54,57,60,63,66,69,72,75,78,81,84,87,90,93,96,99,102,105], "grid": true, "gridColor": "#aaf0f0", "gridWidth": 1, "domain": false, "ticks": true, "tickSize": 5, "tickColor": "#12306e", "tickWidth": 1, "labelExpr": "datum.value % 12 == 3 ? ['07/07:30','07/13:30','07/20:00','08/02:00','08/08:00','08/14:00','10/20:30','11/02:30','11/08:30'][(datum.value - 3) / 12] : ''", "labelFont": "Liberation Sans", "labelFontWeight": "bold", "labelFontSize": 11, "labelColor": "#1c3a8c", "labelPadding": 2, "labelOverlap": false, "labelFlush": false, "title": null}},
            "x2": {"datum": 45.92},
            "y": {"datum": 3.8879, "type": "quantitative", "scale": {"domain": [3.84, 4.029], "nice": false, "zero": false}, "axis": null},
            "y2": {"datum": 3.9028}
          }
        },
        {
          "data": {"values": [{}]},
          "mark": {"type": "rule", "color": "black", "strokeWidth": 1.3},
          "encoding": {
            "x": {"datum": 95.62, "type": "quantitative", "scale": {"domain": [-0.35, 107.1], "nice": false, "zero": false},
              "axis": {"values": [0,3,6,9,12,15,18,21,24,27,30,33,36,39,42,45,48,51,54,57,60,63,66,69,72,75,78,81,84,87,90,93,96,99,102,105], "grid": true, "gridColor": "#aaf0f0", "gridWidth": 1, "domain": false, "ticks": true, "tickSize": 5, "tickColor": "#12306e", "tickWidth": 1, "labelExpr": "datum.value % 12 == 3 ? ['07/07:30','07/13:30','07/20:00','08/02:00','08/08:00','08/14:00','10/20:30','11/02:30','11/08:30'][(datum.value - 3) / 12] : ''", "labelFont": "Liberation Sans", "labelFontWeight": "bold", "labelFontSize": 11, "labelColor": "#1c3a8c", "labelPadding": 2, "labelOverlap": false, "labelFlush": false, "title": null}},
            "x2": {"datum": 91.73},
            "y": {"datum": 4.015, "type": "quantitative", "scale": {"domain": [3.84, 4.029], "nice": false, "zero": false}, "axis": null},
            "y2": {"datum": 3.9967}
          }
        },
        {
          "data": {"values": [{}]},
          "mark": {"type": "point", "shape": "triangle-up", "filled": true, "color": "black", "size": 45, "angle": 336, "opacity": 1},
          "encoding": {
            "x": {"datum": 45.92, "type": "quantitative", "scale": {"domain": [-0.35, 107.1], "nice": false, "zero": false},
              "axis": {"values": [0,3,6,9,12,15,18,21,24,27,30,33,36,39,42,45,48,51,54,57,60,63,66,69,72,75,78,81,84,87,90,93,96,99,102,105], "grid": true, "gridColor": "#aaf0f0", "gridWidth": 1, "domain": false, "ticks": true, "tickSize": 5, "tickColor": "#12306e", "tickWidth": 1, "labelExpr": "datum.value % 12 == 3 ? ['07/07:30','07/13:30','07/20:00','08/02:00','08/08:00','08/14:00','10/20:30','11/02:30','11/08:30'][(datum.value - 3) / 12] : ''", "labelFont": "Liberation Sans", "labelFontWeight": "bold", "labelFontSize": 11, "labelColor": "#1c3a8c", "labelPadding": 2, "labelOverlap": false, "labelFlush": false, "title": null}},
            "y": {"datum": 3.9028, "type": "quantitative", "scale": {"domain": [3.84, 4.029], "nice": false, "zero": false}, "axis": null}
          }
        },
        {
          "data": {"values": [{}]},
          "mark": {"type": "point", "shape": "triangle-up", "filled": true, "color": "black", "size": 45, "angle": 211, "opacity": 1},
          "encoding": {
            "x": {"datum": 91.73, "type": "quantitative", "scale": {"domain": [-0.35, 107.1], "nice": false, "zero": false},
              "axis": {"values": [0,3,6,9,12,15,18,21,24,27,30,33,36,39,42,45,48,51,54,57,60,63,66,69,72,75,78,81,84,87,90,93,96,99,102,105], "grid": true, "gridColor": "#aaf0f0", "gridWidth": 1, "domain": false, "ticks": true, "tickSize": 5, "tickColor": "#12306e", "tickWidth": 1, "labelExpr": "datum.value % 12 == 3 ? ['07/07:30','07/13:30','07/20:00','08/02:00','08/08:00','08/14:00','10/20:30','11/02:30','11/08:30'][(datum.value - 3) / 12] : ''", "labelFont": "Liberation Sans", "labelFontWeight": "bold", "labelFontSize": 11, "labelColor": "#1c3a8c", "labelPadding": 2, "labelOverlap": false, "labelFlush": false, "title": null}},
            "y": {"datum": 3.9967, "type": "quantitative", "scale": {"domain": [3.84, 4.029], "nice": false, "zero": false}, "axis": null}
          }
        },
        {
          "data": {"name": "priceTags"},
          "mark": {"type": "rule", "color": "#ff0000", "strokeWidth": 18, "strokeCap": "butt"},
          "encoding": {
            "x": {"datum": 107.53, "type": "quantitative", "scale": {"domain": [-0.35, 107.1], "nice": false, "zero": false},
              "axis": {"values": [0,3,6,9,12,15,18,21,24,27,30,33,36,39,42,45,48,51,54,57,60,63,66,69,72,75,78,81,84,87,90,93,96,99,102,105], "grid": true, "gridColor": "#aaf0f0", "gridWidth": 1, "domain": false, "ticks": true, "tickSize": 5, "tickColor": "#12306e", "tickWidth": 1, "labelExpr": "datum.value % 12 == 3 ? ['07/07:30','07/13:30','07/20:00','08/02:00','08/08:00','08/14:00','10/20:30','11/02:30','11/08:30'][(datum.value - 3) / 12] : ''", "labelFont": "Liberation Sans", "labelFontWeight": "bold", "labelFontSize": 11, "labelColor": "#1c3a8c", "labelPadding": 2, "labelOverlap": false, "labelFlush": false, "title": null}},
            "x2": {"datum": 116.15},
            "y": {"field": "p", "type": "quantitative", "scale": {"domain": [3.84, 4.029], "nice": false, "zero": false}, "axis": null}
          }
        },
        {
          "data": {"name": "priceTags"},
          "mark": {"type": "text", "align": "center", "baseline": "middle", "font": "Liberation Sans", "fontWeight": "bold", "fontSize": 11, "fill": "#c8ffff"},
          "encoding": {
            "x": {"datum": 111.84, "type": "quantitative", "scale": {"domain": [-0.35, 107.1], "nice": false, "zero": false},
              "axis": {"values": [0,3,6,9,12,15,18,21,24,27,30,33,36,39,42,45,48,51,54,57,60,63,66,69,72,75,78,81,84,87,90,93,96,99,102,105], "grid": true, "gridColor": "#aaf0f0", "gridWidth": 1, "domain": false, "ticks": true, "tickSize": 5, "tickColor": "#12306e", "tickWidth": 1, "labelExpr": "datum.value % 12 == 3 ? ['07/07:30','07/13:30','07/20:00','08/02:00','08/08:00','08/14:00','10/20:30','11/02:30','11/08:30'][(datum.value - 3) / 12] : ''", "labelFont": "Liberation Sans", "labelFontWeight": "bold", "labelFontSize": 11, "labelColor": "#1c3a8c", "labelPadding": 2, "labelOverlap": false, "labelFlush": false, "title": null}},
            "y": {"field": "p", "type": "quantitative", "scale": {"domain": [3.84, 4.029], "nice": false, "zero": false}, "axis": null},
            "text": {"field": "p", "type": "quantitative", "format": ".4f"}
          }
        }
      ]
    }
  ]
}
